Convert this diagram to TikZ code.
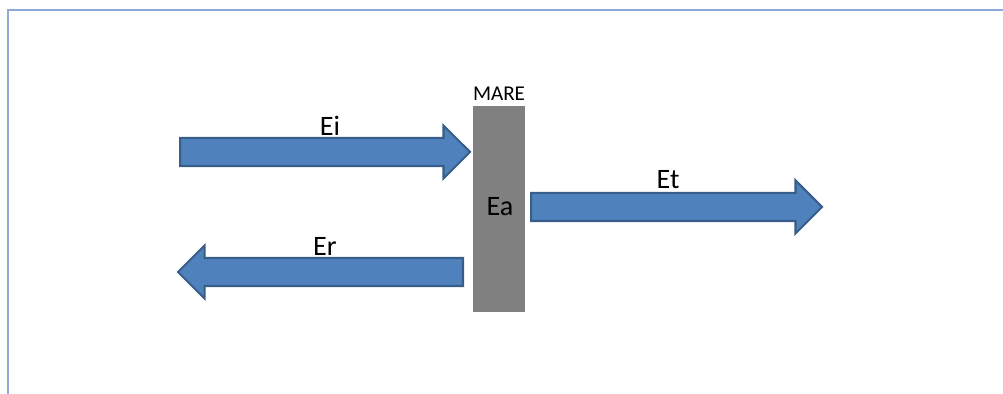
\documentclass[tikz,border=0pt]{standalone}
\usepackage{fontspec}
\setmainfont{Carlito}
\usepackage{xcolor}
\usetikzlibrary{shapes,shapes.arrows,positioning,calc}

\definecolor{arrowfill}{HTML}{4F81BD}
\definecolor{arrowline}{HTML}{385D8A}
\definecolor{framecol}{HTML}{8EAADB}
\definecolor{wallgray}{HTML}{808080}

\begin{document}
\begin{tikzpicture}[
    x=0.02cm, y=-0.02cm,
    font=\fontsize{16}{18}\selectfont,
    wave/.style={single arrow, draw=arrowline, fill=arrowfill, line width=1.2pt,
        inner sep=0pt, minimum width=1.06cm, single arrow head extend=0.25cm,
        single arrow head indent=0pt, text height=0.52cm, text depth=0pt, anchor=tail},
    wall/.style={rectangle, fill=wallgray, minimum width=1.04cm, minimum height=4.12cm, inner sep=0pt},
    lbl/.style={inner sep=0pt}
]
    \useasboundingbox (0,0) rectangle (1003,394);

    % --- frame ---
    \draw[framecol, line width=1.4pt] (8,394) -- (8,10) -- (1003,10);

    % --- medium ---
    \node[wall] (mare) at (499,209) {};
    \node[lbl, font=\fontsize{12}{14}\selectfont, above=0.1cm of mare] (mlab) {MARE};
    \node[lbl] (ea) at (500,207) {Ea};

    % --- incident wave ---
    \node[wave, minimum height=5.8cm] (ei) at (179,152) {};
    \node[lbl] (eil) at (330,126) {Ei};

    % --- reflected wave ---
    \node[wave, shape border rotate=180, minimum height=5.7cm] (er) at (464,272) {};
    \node[lbl] (erl) at (325,246) {Er};

    % --- transmitted wave ---
    \node[wave, minimum height=5.82cm] (et) at (530,207) {};
    \node[lbl] (etl) at (668,180) {Et};

\end{tikzpicture}
\end{document}
